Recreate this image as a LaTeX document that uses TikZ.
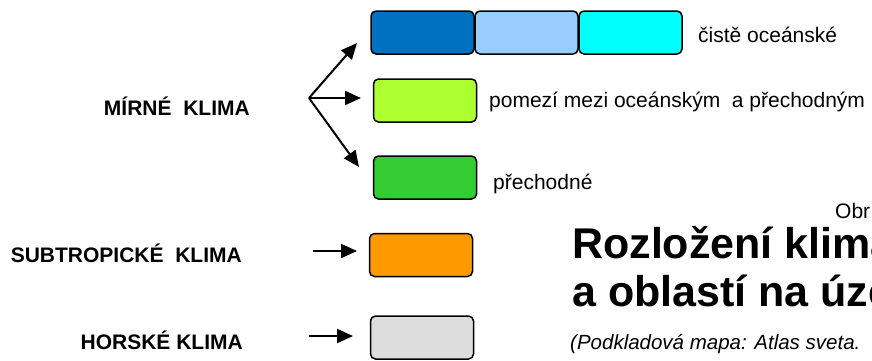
\documentclass[tikz,border=0pt]{standalone}
\usepackage{fontspec}
\setmainfont{Liberation Sans}
\usetikzlibrary{arrows.meta,calc,positioning}

\definecolor{oceanblue}{HTML}{0070C0}
\definecolor{lightblue}{HTML}{99CCFF}
\definecolor{cyanbox}{HTML}{00FFFF}
\definecolor{limebox}{HTML}{ADFF2F}
\definecolor{greenbox}{HTML}{33CC33}
\definecolor{orangebox}{HTML}{FF9900}
\definecolor{graybox}{HTML}{DDDDDD}

\begin{document}
\begin{tikzpicture}[x=1pt,y=-1pt,
    climbox/.style={draw=black,line width=1.5pt,rounded corners=5pt,
      minimum width=103pt,minimum height=43pt,inner sep=0pt},
    zone/.style={font=\fontsize{21}{25}\selectfont\bfseries,inner sep=0pt,anchor=east},
    note/.style={font=\fontsize{21}{25}\selectfont,inner sep=0pt,anchor=base west},
    title/.style={font=\fontsize{43}{47}\selectfont\bfseries,inner sep=0pt,anchor=base west},
    arr/.style={line width=2pt,-{Triangle[length=16pt,width=14pt]}}]
  \clip (0,0) rectangle (872,360);

  % climate boxes
  \node[climbox,fill=oceanblue] (boxOcA) at (422.5,32.5) {};
  \node[climbox,fill=lightblue] (boxOcB) at (526.5,32.5) {};
  \node[climbox,fill=cyanbox]   (boxOcC) at (630.5,32.5) {};
  \node[climbox,fill=limebox]   (boxMid) at (425,100.5) {};
  \node[climbox,fill=greenbox]  (boxTr)  at (425,177.5) {};
  \node[climbox,fill=orangebox] (boxSub) at (421,255) {};
  \node[climbox,fill=graybox]   (boxMt)  at (422,337.5) {};

  \node[note] (txtOc)  at (698,42) {čistě oceánské};
  \node[note] (txtMid) at (489,107) {pomezí mezi oceánským\ \ a přechodným};
  \node[note] (txtTr)  at (493,189) {přechodné};

  % zone labels
  \node[zone] (lblMild) at (250,106) {MÍRNÉ\ \ KLIMA};
  \node[zone] (lblSub)  at (242,253) {SUBTROPICKÉ\ \ KLIMA};
  \node[zone] (lblMt)   at (243,340) {HORSKÉ KLIMA};

  % arrows
  \coordinate (fork) at (309,98);
  \coordinate (tipOc) at (357,43);
  \coordinate (tipMid) at (361,98);
  \coordinate (tipTr) at (359,167);
  \coordinate (subStart) at (313,251);
  \coordinate (tipSub) at (357,251);
  \coordinate (mtStart) at (309,336);
  \coordinate (tipMt) at (353,336);
  \draw[arr] (fork) -- (tipOc);
  \draw[arr] (fork) -- (tipMid);
  \draw[arr] (fork) -- (tipTr);
  \draw[arr] (subStart) -- (tipSub);
  \draw[arr] (mtStart) -- (tipMt);

  % caption
  \node[note] (obr) at (835,218) {Obr};
  \node[title] (ttlA) at (572,258) {Rozložení klima};
  \node[title] (ttlB) at (572,306) {a oblastí na úze};
  \node[note,font=\fontsize{20.5}{24}\selectfont\itshape] (src) at (570,349) {(Podkladová mapa: Atlas sveta.};
\end{tikzpicture}
\end{document}
